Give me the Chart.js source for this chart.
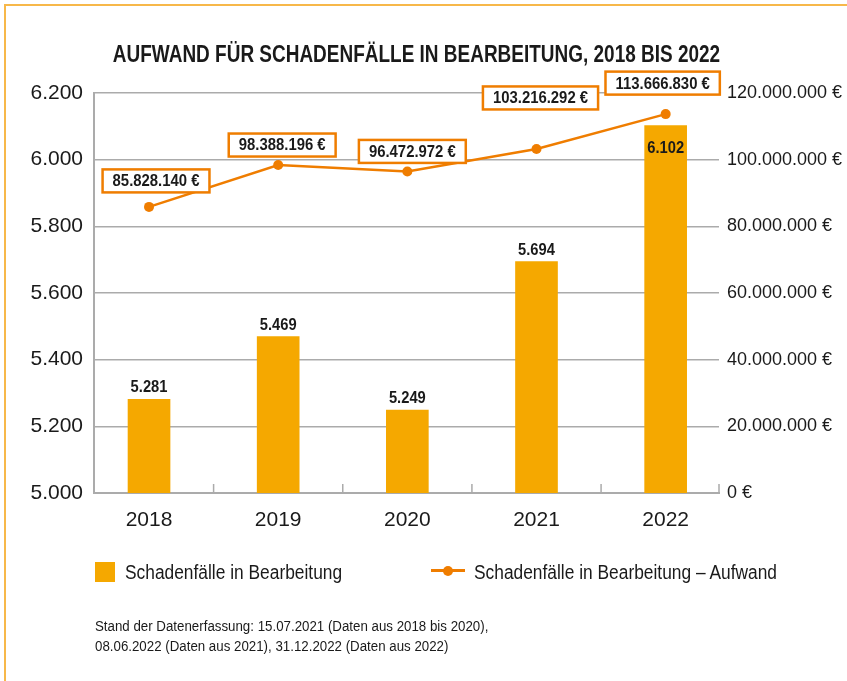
<!DOCTYPE html>
<html lang="de">
<head>
<meta charset="utf-8">
<title>Aufwand für Schadenfälle in Bearbeitung, 2018 bis 2022</title>
<script src="https://cdn.jsdelivr.net/npm/chart.js@4.4.1/dist/chart.umd.min.js"></script>
<style>
  html, body { margin: 0; padding: 0; background: #fff; }
  body {
    width: 847px; height: 681px; position: relative; overflow: hidden;
    font-family: 'Liberation Sans', Arial, sans-serif;
    color: #1a1a1a;
  }
  .frame {
    position: absolute; left: 4px; top: 4px; right: -10px; bottom: -10px;
    border-top: 2px solid #f7b84a; border-left: 2px solid #f7b84a;
  }
  #chart { position: absolute; left: 0; top: 0; }
  /* schmale Schrift nachbilden */
  .narrow { transform-origin: 0 50%; }
  .title {
    position: absolute; left: 0; top: 43px; width: 833px;
    text-align: center; font-weight: bold; font-size: 23px; line-height: 23px;
    transform: scaleX(0.825); transform-origin: 50% 50%;
  }
  .legend-text {
    position: absolute; top: 562px; font-size: 19.5px; line-height: 20px; white-space: nowrap;
    transform: scaleX(0.89);
  }
  .swatch { position: absolute; left: 95px; top: 562px; width: 20px; height: 20px; background: #f5a800; }
  .line-swatch { position: absolute; left: 431px; top: 569px; width: 34px; height: 3px; background: #ef7d00; }
  .dot { position: absolute; left: 443px; top: 565.5px; width: 10px; height: 10px; border-radius: 50%; background: #ef7d00; }
  .note {
    position: absolute; left: 95px; top: 617px;
    font-size: 14px; line-height: 19.5px; white-space: nowrap;
    transform: scaleX(0.95);
  }
</style>
</head>
<body>
<div class="frame"></div>
<canvas id="chart" width="847" height="681"></canvas>
<div class="title">AUFWAND FÜR SCHADENFÄLLE IN BEARBEITUNG, 2018 BIS 2022</div>
<div class="swatch"></div>
<div class="legend-text narrow" style="left:125px">Schadenfälle in Bearbeitung</div>
<div class="line-swatch"></div>
<div class="dot"></div>
<div class="legend-text narrow" style="left:474px">Schadenfälle in Bearbeitung – Aufwand</div>
<div class="note narrow">Stand der Datenerfassung: 15.07.2021 (Daten aus 2018 bis 2020),<br>08.06.2022 (Daten aus 2021), 31.12.2022 (Daten aus 2022)</div>

<script>
// Daten
const years = ['2018', '2019', '2020', '2021', '2022'];
const casesInProgress = [5281, 5469, 5249, 5694, 6102];
const expenseEuro = [85828140, 98388196, 96472972, 103216292, 113666830];
const leftTicks = [5000, 5200, 5400, 5600, 5800, 6000, 6200];
const rightTicks = [0, 20000000, 40000000, 60000000, 80000000, 100000000, 120000000];

// Platzierung der Beschriftungen
const barLabelInside = [false, false, false, false, true];
const lineLabelShift = [[7, -26], [4, -20], [5, -20], [4, -51], [-3, -31]];

const FONT = '"Liberation Sans", Arial, sans-serif';
const INK = '#1a1a1a';
const BAR = '#f5a800';
const LINE = '#ef7d00';
const GRID = '#ababab';

// 85828140 -> "85.828.140"
const fmt = n => String(n).replace(/\B(?=(\d{3})+(?!\d))/g, '.');

// Text horizontal gestaucht zeichnen (wie die schmale Originalschrift)
function narrowText(ctx, text, x, y, squeeze) {
    ctx.save();
    ctx.translate(x, y);
    ctx.scale(squeeze, 1);
    ctx.fillText(text, 0, 0);
    ctx.restore();
}

const annotate = {
    id: 'annotate',
    beforeDatasetsDraw(chart) {
        // kleine Teilstriche auf der x-Achse zwischen den Jahren
        const { ctx, chartArea } = chart;
        const x = chart.scales.x;
        const marks = years.slice(1).map((_, i) => x.getPixelForValue(i + 0.5));
        marks.push(chartArea.right);
        ctx.save();
        ctx.strokeStyle = GRID;
        ctx.lineWidth = 1.5;
        ctx.beginPath();
        marks.forEach(px => {
            ctx.moveTo(px, chartArea.bottom);
            ctx.lineTo(px, chartArea.bottom - 9);
        });
        ctx.stroke();
        ctx.restore();
    },
    afterDatasetsDraw(chart) {
        const ctx = chart.ctx;
        ctx.save();

        // Werte über den Säulen
        ctx.font = 'bold 16px ' + FONT;
        ctx.fillStyle = INK;
        ctx.textAlign = 'center';
        ctx.textBaseline = 'alphabetic';
        chart.getDatasetMeta(0).data.forEach((bar, i) => {
            const y = barLabelInside[i] ? bar.y + 27 : bar.y - 7;
            narrowText(ctx, fmt(casesInProgress[i]), bar.x, y, 0.92);
        });

        // Euro-Beträge in Kästchen über der Linie
        ctx.font = 'bold 16px ' + FONT;
        ctx.textBaseline = 'middle';
        chart.getDatasetMeta(1).data.forEach((pt, i) => {
            const text = fmt(expenseEuro[i]) + ' €';
            const w = ctx.measureText(text).width * 0.93 + 20;
            const h = 23;
            const cx = pt.x + lineLabelShift[i][0];
            const cy = pt.y + lineLabelShift[i][1];
            ctx.fillStyle = '#fff';
            ctx.fillRect(cx - w / 2, cy - h / 2, w, h);
            ctx.strokeStyle = LINE;
            ctx.lineWidth = 2.5;
            ctx.strokeRect(cx - w / 2, cy - h / 2, w, h);
            ctx.fillStyle = INK;
            narrowText(ctx, text, cx, cy + 1, 0.93);
        });
        ctx.restore();
    }
};

Chart.defaults.font.family = FONT;
Chart.defaults.color = INK;

new Chart(document.getElementById('chart'), {
    type: 'bar',
    data: {
        datasets: [
            {
                type: 'bar',
                label: 'Schadenfälle in Bearbeitung',
                data: years.map((_, i) => ({ x: i, y: casesInProgress[i] })),
                backgroundColor: BAR,
                barThickness: 42,
                yAxisID: 'y',
                order: 1
            },
            {
                type: 'line',
                label: 'Schadenfälle in Bearbeitung – Aufwand',
                data: years.map((_, i) => ({ x: i, y: expenseEuro[i] })),
                borderColor: LINE,
                borderWidth: 2.5,
                backgroundColor: LINE,
                pointBackgroundColor: LINE,
                pointBorderWidth: 0,
                pointRadius: 5,
                tension: 0,
                yAxisID: 'yRight',
                order: 0
            }
        ]
    },
    options: {
        responsive: false,
        animation: false,
        layout: { padding: { top: 93, bottom: 138, left: 0, right: 0 } },
        plugins: {
            legend: { display: false },
            tooltip: { enabled: false }
        },
        scales: {
            x: {
                type: 'linear',
                offset: false,
                min: -0.426,
                max: 4.413,
                afterBuildTicks: s => { s.ticks = years.map((_, i) => ({ value: i })); },
                grid: { display: false, drawTicks: false, offset: false },
                border: { display: true, color: GRID, width: 2 },
                ticks: {
                    padding: 15,
                    font: { size: 21 },
                    color: INK,
                    autoSkip: false,
                    maxRotation: 0,
                    callback: v => years[v]
                },
                afterFit: s => { s.height = 50; }
            },
            y: {
                position: 'left',
                min: leftTicks[0],
                max: leftTicks[leftTicks.length - 1],
                afterBuildTicks: s => { s.ticks = leftTicks.map(v => ({ value: v })); },
                grid: { color: GRID, lineWidth: 1.5, drawTicks: false },
                border: { display: true, color: GRID, width: 2 },
                ticks: { padding: 11, font: { size: 21 }, color: INK, callback: v => fmt(v) },
                afterFit: s => { s.width = 94; }
            },
            yRight: {
                position: 'right',
                min: rightTicks[0],
                max: rightTicks[rightTicks.length - 1],
                afterBuildTicks: s => { s.ticks = rightTicks.map(v => ({ value: v })); },
                grid: { display: false, drawTicks: false },
                border: { display: false },
                ticks: { padding: 8, font: { size: 18 }, color: INK, callback: v => fmt(v) + ' €' },
                afterFit: s => { s.width = 128; }
            }
        }
    },
    plugins: [annotate]
});
</script>
</body>
</html>
